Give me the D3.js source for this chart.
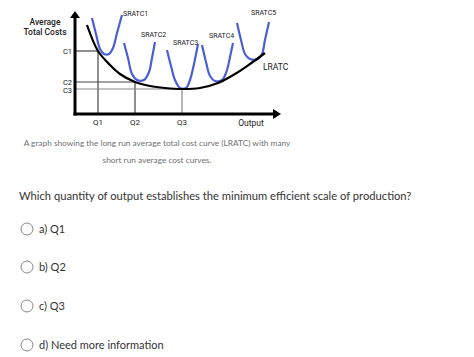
<!DOCTYPE html>
<html><head><meta charset="utf-8">
<script src="https://cdn.jsdelivr.net/npm/d3@7"></script>
<style>body{margin:0;background:#fff;} svg{display:block;}</style>
</head><body>
<svg id="c" width="474" height="357"></svg>
<script>
// ---- data (output units 0..100, cost units 0..100) ----
const qLabels = ["Q1", "Q2", "Q3"];
const qValues = [11.5, 30, 53.5];
const cLabels = ["C1", "C2", "C3"];
const cValues = [63, 32, 25];
const lratc = [[6,89],[11.5,63],[17.5,49],[22.5,40],[30,32],[37.5,28],[45,26],[53.5,25],[62.5,26],[71.5,31],[80,40],[87.5,50],[95,61]];
const sratcNames = ["SRATC1","SRATC2","SRATC3","SRATC4","SRATC5"];
const sratc1 = [[8.5,96],[10.5,80],[12.5,65],[14.5,60],[17,60],[19,66],[21,81],[23.5,99]];
const sratc2 = [[24.5,71],[26.5,56],[28.5,40],[31,34],[34.5,34],[37,42],[38.5,56],[40,72]];
const sratc3 = [[46,64],[48,48],[50,34],[52.5,26],[55.5,26],[57.5,34],[59.5,50],[61.5,70]];
const sratc4 = [[63.5,69],[65.5,52],[67.5,38],[70,33],[73.5,34],[76,44],[77.5,57],[79,71]];
const sratc5 = [[81,91],[83,74],[85,60],[87.5,55],[91.5,55],[93.5,60],[95,74],[97,92]];
const sratcLabelPos = [[24,98],[33,77],[49,69],[67,76],[88,99]];
const caption = ["A graph showing the long run average total cost curve (LRATC) with many", "short run average cost curves."];
const question = "Which quantity of output establishes the minimum efficient scale of production?";
const options = ["a) Q1", "b) Q2", "c) Q3", "d) Need more information"];

const svg = d3.select("#c");
const x = d3.scaleLinear().domain([0,100]).range([75,275]);
const y = d3.scaleLinear().domain([0,100]).range([114,14]);
const line = d3.line().x(d=>x(d[0])).y(d=>y(d[1])).curve(d3.curveCatmullRom.alpha(0.5));

const g = svg.append("g");
// guide lines
qValues.forEach((q,i)=>{
  const c = cValues[i];
  const col = i===2 ? "#888" : "#444";
  g.append("line").attr("x1",x(0)).attr("x2",x(q)).attr("y1",y(c)).attr("y2",y(c)).attr("stroke",col).attr("stroke-width",1.2);
  g.append("line").attr("x1",x(q)).attr("x2",x(q)).attr("y1",y(c)).attr("y2",y(0)).attr("stroke",col).attr("stroke-width",1.2);
});
// SRATC curves
[sratc1,sratc2,sratc3,sratc4,sratc5].forEach(s=>{
  g.append("path").attr("d",line(s)).attr("fill","none").attr("stroke","#4a5fd6").attr("stroke-width",2.2).attr("stroke-linejoin","round");
});
// LRATC
g.append("path").attr("d",line(lratc)).attr("fill","none").attr("stroke","#000").attr("stroke-width",2.2);

// axes
g.append("line").attr("x1",x(0)).attr("x2",x(0)).attr("y1",y(0)+1.5).attr("y2",y(98)).attr("stroke","#000").attr("stroke-width",3);
g.append("line").attr("x1",x(0)-1.5).attr("x2",x(100)).attr("y1",y(0)).attr("y2",y(0)).attr("stroke","#000").attr("stroke-width",3);
g.append("path").attr("d",`M${x(0)-5},${y(96)} L${x(0)},${y(103)} L${x(0)+5},${y(96)} Z`).attr("fill","#000");
g.append("path").attr("d",`M${x(99)},${y(0)-5} L${x(103)},${y(0)} L${x(99)},${y(0)+5} Z`).attr("fill","#000");

const lab = {"font-family":"Roboto, Arial, sans-serif","fill":"#222"};
function T(sel, attrs){ Object.entries(attrs).forEach(([k,v])=>sel.attr(k,v)); return sel; }
// axis titles
T(g.append("text").text("Average"),{...lab,x:45,y:25,"text-anchor":"middle","font-size":8.5,"font-weight":500});
T(g.append("text").text("Total Costs"),{...lab,x:45,y:35,"text-anchor":"middle","font-size":8.5,"font-weight":500});
T(g.append("text").text("Output"),{...lab,x:251,y:126,"text-anchor":"middle","font-size":8.5});
cLabels.forEach((t,i)=>{
  T(g.append("text").text(t),{...lab,x:x(0)-3,y:y(cValues[i])+(i===2?3.5:2.5),"text-anchor":"end","font-size":7.5});
});
qLabels.forEach((t,i)=>{
  T(g.append("text").text(t),{...lab,x:x(qValues[i]),y:125,"text-anchor":"middle","font-size":8});
});
sratcNames.forEach((t,i)=>{
  T(g.append("text").text(t),{...lab,x:x(sratcLabelPos[i][0]),y:y(sratcLabelPos[i][1]),"font-size":7});
});
T(g.append("text").text("LRATC"),{...lab,x:263,y:70,"font-size":8.5});

// caption
T(svg.append("text").text(caption[0]),{x:157,y:146,"text-anchor":"middle","font-family":"Lato, sans-serif","font-size":8.3,fill:"#707070"});
T(svg.append("text").text(caption[1]),{x:157,y:163,"text-anchor":"middle","font-family":"Lato, sans-serif","font-size":8.3,fill:"#707070"});
// question
T(svg.append("text").text(question),{x:19,y:200,"font-family":"Lato, sans-serif","font-size":11.2,fill:"#333"});
const oy = [229,267,306,345];
options.forEach((t,i)=>{
  svg.append("circle").attr("cx",27).attr("cy",oy[i]).attr("r",6).attr("fill","#fff").attr("stroke","#888").attr("stroke-width",1);
  T(svg.append("text").text(t),{x:39,y:oy[i]+4,"font-family":"Lato, sans-serif","font-size":11,fill:"#333"});
});
</script>
</body></html>
